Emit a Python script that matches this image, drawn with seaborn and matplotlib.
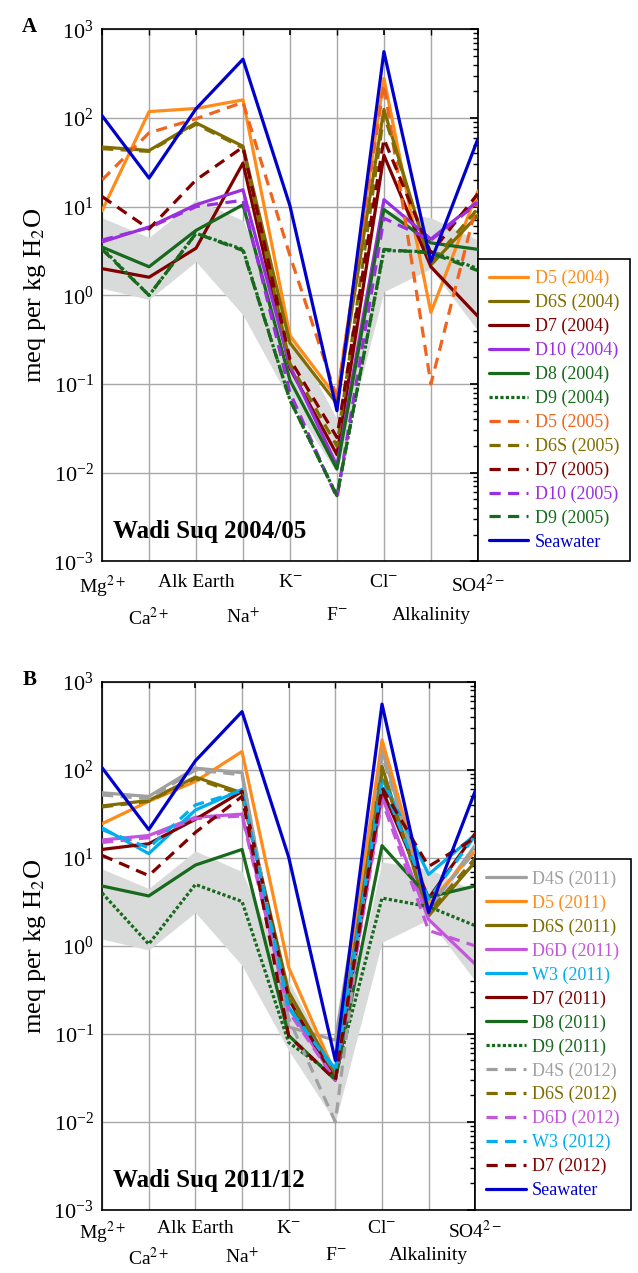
#!/usr/bin/env python3

import matplotlib
matplotlib.use("Agg")
import matplotlib.pyplot as plt
import seaborn as sns
from matplotlib.ticker import FixedLocator, LogFormatterMathtext, NullFormatter

# category axis
ions = ['Mg$^{2+}$', 'Ca$^{2+}$', 'Alk Earth', 'Na$^{+}$', 'K$^{-}$',
        'F$^{-}$', 'Cl$^{-}$', 'Alkalinity', 'SO4$^{2-}$']
xpos = list(range(1, len(ions) + 1))

# y axis decades
decades = [1e-3, 1e-2, 1e-1, 1e0, 1e1, 1e2, 1e3]

# grey reference envelope (same in both panels)
band_hi = [7.5, 4.5, 12, 7.0, 0.4, 0.04, 9.0, 7.5, 4.2]
band_lo = [1.2, 0.9, 2.4, 0.6, 0.065, 0.01, 1.1, 2.0, 0.4]

seawater = [106, 21, 127, 460, 10.2, 0.05, 560, 2.4, 58]

# Wadi Suq 2004/05
d5_2004 = [9.0, 118, 128, 160, 0.35, 0.07, 280, 0.64, 15]
d6s_2004 = [47, 43, 88, 48, 0.29, 0.06, 125, 2.2, 8.0]
d7_2004 = [2.0, 1.6, 3.4, 31, 0.15, 0.016, 38, 2.1, 0.58]
d10_2004 = [4.0, 5.9, 10.5, 15.5, 0.16, 0.012, 12, 4.3, 11.5]
d8_2004 = [3.5, 2.1, 5.4, 10.5, 0.11, 0.011, 9.3, 3.9, 3.3]
d9_2004 = [3.4, 1.0, 5.0, 3.3, 0.066, 0.0055, 3.2, 3.1, 2.0]
d5_2005 = [20, 68, 98, 150, 2.8, 0.07, 240, 0.1, 12]
d6s_2005 = [45, 42, 85, 46, 0.17, 0.02, 110, 2.3, 9.5]
d7_2005 = [13, 5.6, 20, 47, 0.19, 0.025, 58, 3.0, 14]
d10_2005 = [4.2, 5.8, 10, 11.8, 0.08, 0.0052, 7.4, 4.2, 11]
d9_2005 = [3.3, 1.0, 5.0, 3.2, 0.066, 0.0055, 3.3, 3.0, 1.9]

# Wadi Suq 2011/12
d4s_2011 = [55, 50, 105, 93, 0.12, 0.085, 170, 2.6, 14]
d5_2011 = [24.5, 44, 74, 162, 0.57, 0.035, 220, 3.0, 12]
d6s_2011 = [39, 45, 83, 55, 0.3, 0.035, 110, 2.2, 9.1]
d6d_2011 = [16, 18, 29, 31.5, 0.2, 0.03, 50, 2.0, 0.62]
w3_2011 = [22, 11.2, 35, 60, 0.2, 0.04, 80, 6.5, 18.5]
d7_2011 = [12.5, 14.5, 27.5, 57, 0.25, 0.03, 60, 3.5, 19]
d8_2011 = [4.8, 3.7, 8.3, 12.5, 0.096, 0.03, 13.8, 3.6, 4.8]
d9_2011 = [4.0, 1.05, 5.0, 3.2, 0.08, 0.033, 3.5, 2.8, 1.7]
d4s_2012 = [52, 47, 100, 88, 0.15, 0.01, 150, 2.8, 12]
d6s_2012 = [38, 44, 80, 52, 0.25, 0.035, 95, 2.4, 10]
d6d_2012 = [15, 17, 28, 30, 0.18, 0.03, 45, 1.5, 1.0]
w3_2012 = [21, 13, 40, 58, 0.2, 0.038, 72, 3.4, 18]
d7_2012 = [10.7, 6.3, 19.5, 50, 0.095, 0.03, 63, 8.0, 17]

ORANGE = '#ff8c1a'
ORANGE2 = '#f0641e'
OLIVE = '#806c00'
DKRED = '#800000'
PURPLE = '#9a2fe0'
GREEN = '#17691c'
BLUE = '#0000cd'
GREY = '#a0a0a0'
ORCHID = '#c455dd'
CYAN = '#00aeef'

SOLID = (None, None)
DASH = (3.5, 2.3)
DOT = (1.0, 0.7)

series_a = [
    ('D5 (2004)', d5_2004, ORANGE, SOLID),
    ('D6S (2004)', d6s_2004, OLIVE, SOLID),
    ('D7 (2004)', d7_2004, DKRED, SOLID),
    ('D10 (2004)', d10_2004, PURPLE, SOLID),
    ('D8 (2004)', d8_2004, GREEN, SOLID),
    ('D9 (2004)', d9_2004, GREEN, DOT),
    ('D5 (2005)', d5_2005, ORANGE2, DASH),
    ('D6S (2005)', d6s_2005, OLIVE, DASH),
    ('D7 (2005)', d7_2005, DKRED, DASH),
    ('D10 (2005)', d10_2005, PURPLE, DASH),
    ('D9 (2005)', d9_2005, GREEN, DASH),
    ('Seawater', seawater, BLUE, SOLID),
]

series_b = [
    ('D4S (2011)', d4s_2011, GREY, SOLID),
    ('D5 (2011)', d5_2011, ORANGE, SOLID),
    ('D6S (2011)', d6s_2011, OLIVE, SOLID),
    ('D6D (2011)', d6d_2011, ORCHID, SOLID),
    ('W3 (2011)', w3_2011, CYAN, SOLID),
    ('D7 (2011)', d7_2011, DKRED, SOLID),
    ('D8 (2011)', d8_2011, GREEN, SOLID),
    ('D9 (2011)', d9_2011, GREEN, DOT),
    ('D4S (2012)', d4s_2012, GREY, DASH),
    ('D6S (2012)', d6s_2012, OLIVE, DASH),
    ('D6D (2012)', d6d_2012, ORCHID, DASH),
    ('W3 (2012)', w3_2012, CYAN, DASH),
    ('D7 (2012)', d7_2012, DKRED, DASH),
    ('Seawater', seawater, BLUE, SOLID),
]


def schoeller(ax, series, title, letter, pads):
    ax.set_yscale('log')
    ax.fill_between(xpos, band_lo, band_hi, color='#d9dada', lw=0, zorder=1)
    for name, vals, col, dash in series:
        sns.lineplot(x=xpos, y=vals, ax=ax, color=col, lw=2.3, label=name,
                     zorder=3)
        line = ax.get_lines()[-1]
        if dash != SOLID:
            line.set_dashes(dash)
    ax.set_xlim(1, 9)
    ax.set_ylim(1e-3, 1e3)
    minor = [m * d for d in decades[:-1] for m in range(2, 10)]
    ax.yaxis.set_major_locator(FixedLocator(decades))
    ax.yaxis.set_major_formatter(LogFormatterMathtext())
    ax.yaxis.set_minor_locator(FixedLocator(minor))
    ax.yaxis.set_minor_formatter(NullFormatter())
    # two staggered rows of ion labels
    ax.set_xticks(xpos[0::2])
    ax.set_xticklabels(ions[0::2])
    ax.set_xticks(xpos[1::2], minor=True)
    ax.set_xticklabels(ions[1::2], minor=True)
    ax.tick_params(axis='x', which='major', labelsize=14, pad=pads[0], length=4,
                   direction='in', top=True)
    ax.tick_params(axis='x', which='minor', labelsize=14, pad=pads[1], length=4,
                   direction='in', top=True)
    ax.tick_params(axis='y', which='major', labelsize=16, pad=6, length=6,
                   direction='in', right=True)
    ax.tick_params(axis='y', which='minor', length=3.5, direction='in',
                   right=True)
    ax.grid(True, which='major', axis='y', color='#a8a8a8', lw=1.0, zorder=0)
    ax.grid(True, which='both', axis='x', color='#a8a8a8', lw=1.0, zorder=0)
    ax.set_axisbelow(True)
    for sp in ax.spines.values():
        sp.set_color('black')
        sp.set_linewidth(1.2)
    ax.set_xlabel('')
    ax.set_ylabel('meq per kg H$_2$O', fontsize=19, labelpad=4)
    ax.text(0.03, 0.035, title, transform=ax.transAxes, fontsize=18,
            fontweight='bold', ha='left', va='bottom', zorder=5)
    ax.text(-0.213, 0.995, letter, transform=ax.transAxes, fontsize=15,
            fontweight='bold', ha='left', va='baseline')
    leg = ax.legend(loc='lower left', bbox_to_anchor=(1.0, 0.0),
                    borderaxespad=0, fontsize=13, frameon=True,
                    fancybox=False, framealpha=1, edgecolor='black',
                    handlelength=2.2, handletextpad=0.35, labelspacing=0.37,
                    borderpad=0.6)
    leg.get_frame().set_linewidth(1.2)
    for txt, (name, vals, col, dash) in zip(leg.get_texts(), series):
        txt.set_color(col)


sns.set_theme(style='white', rc={'text.color': 'black',
                                 'axes.labelcolor': 'black',
                                 'xtick.color': 'black',
                                 'ytick.color': 'black'})
plt.rcParams['font.family'] = ['Liberation Serif', 'DejaVu Serif']
plt.rcParams['mathtext.fontset'] = 'stix'

fig = plt.figure(figsize=(6.38, 12.73), dpi=100)
ax_a = fig.add_axes([0.160, 0.559, 0.589, 0.418])
ax_b = fig.add_axes([0.160, 0.0495, 0.585, 0.4148])

schoeller(ax_a, series_a, 'Wadi Suq 2004/05', 'A', (9, 33))
schoeller(ax_b, series_b, 'Wadi Suq 2011/12', 'B', (7, 27))

fig.savefig('out.png', dpi=100)
